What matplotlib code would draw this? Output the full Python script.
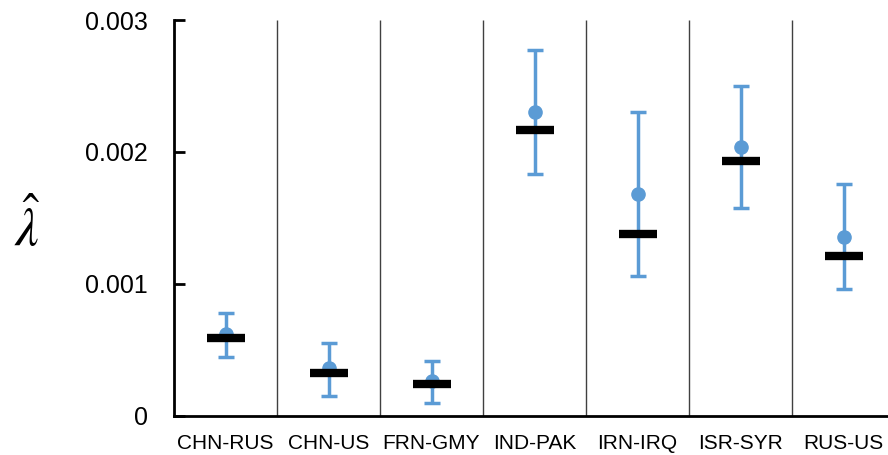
import matplotlib.pyplot as plt
import numpy as np

pairs = ['CHN-RUS', 'CHN-US', 'FRN-GMY', 'IND-PAK', 'IRN-IRQ', 'ISR-SYR', 'RUS-US']
means = [0.00062, 0.00036, 0.000265, 0.002305, 0.00168, 0.002038, 0.001356]
medians = [0.000585, 0.00032, 0.000237, 0.002169, 0.00138, 0.001927, 0.001207]
upper = [0.00078, 0.00055, 0.00041, 0.002773, 0.002305, 0.0025, 0.001755]
lower = [0.00044, 0.00015, 0.000096, 0.001833, 0.001055, 0.001573, 0.000957]

plt.rcParams['font.family'] = ['Liberation Sans', 'DejaVu Sans']
plt.rcParams['mathtext.fontset'] = 'stix'

fig = plt.figure(figsize=(8.88, 4.55), dpi=100)
ax = fig.add_axes([174 / 888, 39.5 / 455, 721 / 888, 395.5 / 455])

x = np.arange(len(pairs))
m = np.array(means)
err = [m - np.array(lower), np.array(upper) - m]

ax.vlines(x[:-1] + 0.5, 0, 0.003, color='#404040', lw=1.0, zorder=1)
ax.errorbar(x, m, yerr=err, fmt='o', color='#5B9BD5', ms=9.5, elinewidth=2.5,
            capsize=6, capthick=2.5, zorder=3)
ax.scatter(x, medians, marker='_', s=720, linewidths=6, color='black', zorder=4)

ax.set_xlim(-0.5, len(pairs) - 0.5)
ax.set_ylim(0, 0.003)
ax.set_yticks([0, 0.001, 0.002, 0.003])
ax.set_yticklabels(['0', '0.001', '0.002', '0.003'], fontsize=18)
ax.set_xticks(x)
ax.set_xticklabels(pairs, fontsize=15)
ax.tick_params(axis='y', direction='in', length=8, width=2, pad=19)
ax.tick_params(axis='x', length=0, pad=13)

for side in ('top', 'right'):
    ax.spines[side].set_visible(False)
for side in ('left', 'bottom'):
    ax.spines[side].set_linewidth(2)

fig.text(27 / 888, 1 - 228 / 455, r'$\hat{\lambda}$', fontsize=38, ha='center', va='center')

fig.savefig('out.png', dpi=100)
